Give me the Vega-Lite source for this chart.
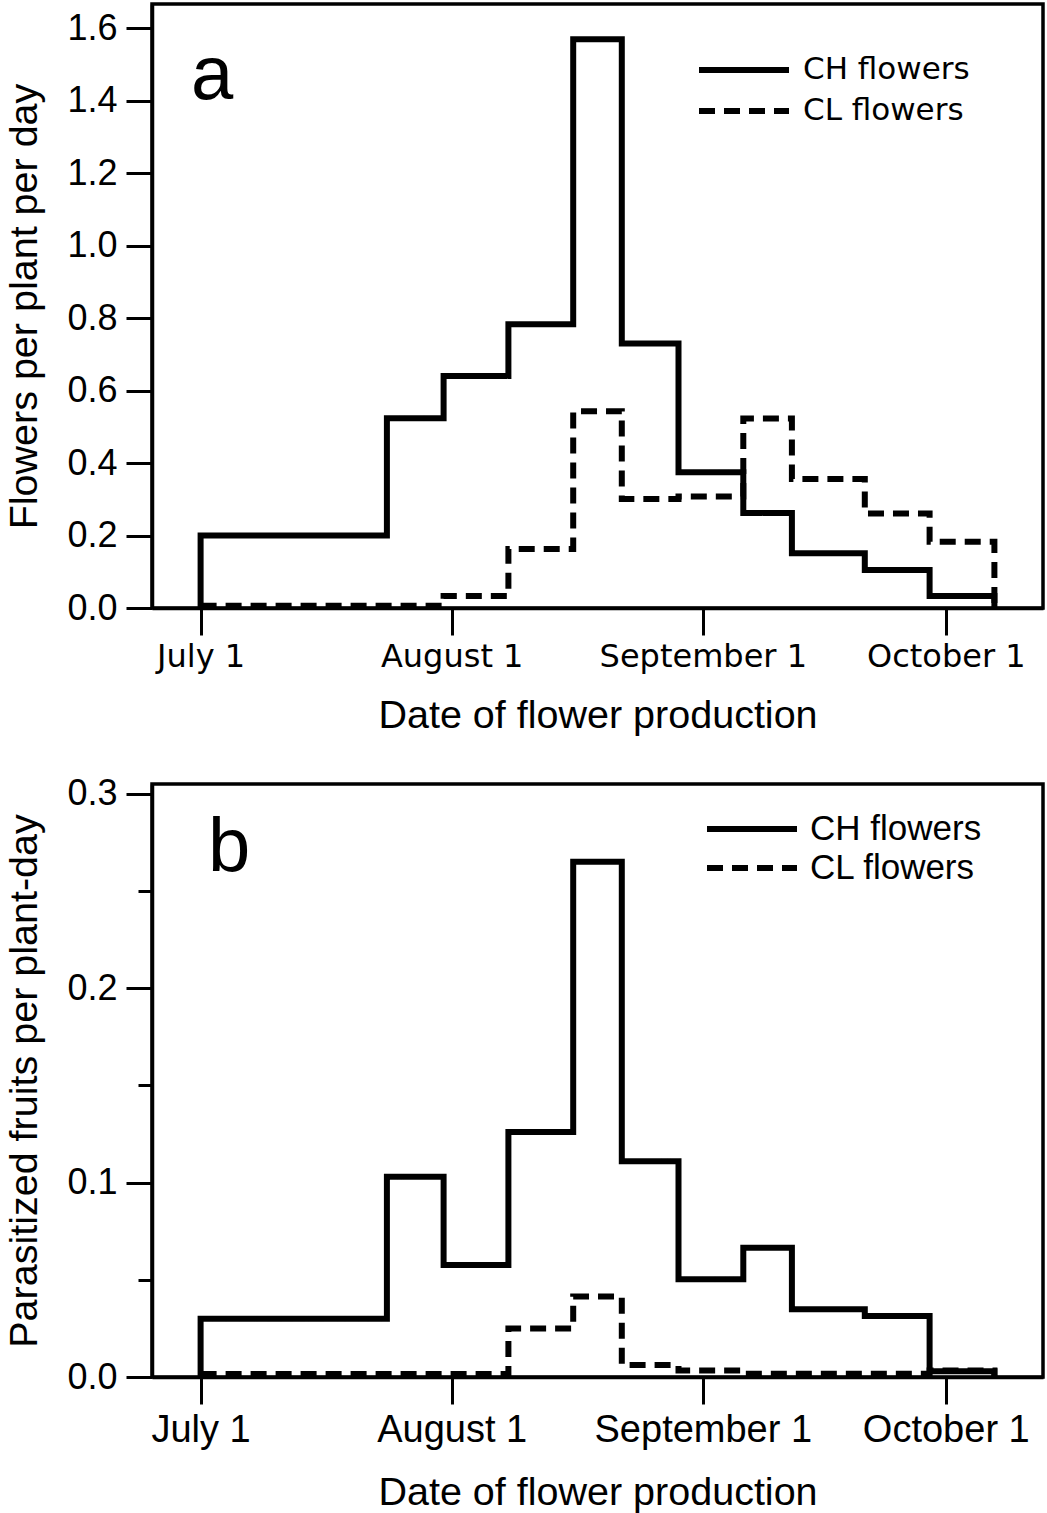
{
  "$schema": "https://vega.github.io/schema/vega-lite/v6.json",
  "padding": {"left": 3, "top": 2, "right": 0, "bottom": 0},
  "autosize": {"type": "pad"},
  "background": "white",
  "spacing": 36,
  "config": {
    "view": {"stroke": "black", "strokeWidth": 3.5},
    "axis": {
      "domainColor": "black", "domainWidth": 3.5, "tickColor": "black", "tickWidth": 3,
      "labelColor": "black", "titleColor": "black", "grid": false,
      "labelFont": "Liberation Sans", "titleFont": "Liberation Sans", "titleFontWeight": "normal",
      "labelOverlap": false, "labelFlush": false, "labelLimit": 0
    },
    "legend": {"padding": 0, "labelLimit": 0}
  },
  "datasets": {
    "a": [
      {"t": "CH flowers", "i": 0, "d": "2001-07-01", "v": 0},
      {"t": "CH flowers", "i": 1, "d": "2001-07-01", "v": 0.2},
      {"t": "CH flowers", "i": 2, "d": "2001-07-24", "v": 0.524},
      {"t": "CH flowers", "i": 3, "d": "2001-07-31", "v": 0.64},
      {"t": "CH flowers", "i": 4, "d": "2001-08-08", "v": 0.783},
      {"t": "CH flowers", "i": 5, "d": "2001-08-16", "v": 1.57},
      {"t": "CH flowers", "i": 6, "d": "2001-08-22", "v": 0.73},
      {"t": "CH flowers", "i": 7, "d": "2001-08-29", "v": 0.375},
      {"t": "CH flowers", "i": 8, "d": "2001-09-06", "v": 0.262},
      {"t": "CH flowers", "i": 9, "d": "2001-09-12", "v": 0.151},
      {"t": "CH flowers", "i": 10, "d": "2001-09-21", "v": 0.105},
      {"t": "CH flowers", "i": 11, "d": "2001-09-29", "v": 0.033},
      {"t": "CH flowers", "i": 12, "d": "2001-10-07", "v": 0},
      {"t": "CL flowers", "i": 0, "d": "2001-07-01", "v": 0.006},
      {"t": "CL flowers", "i": 1, "d": "2001-07-31", "v": 0.033},
      {"t": "CL flowers", "i": 2, "d": "2001-08-08", "v": 0.163},
      {"t": "CL flowers", "i": 3, "d": "2001-08-16", "v": 0.543},
      {"t": "CL flowers", "i": 4, "d": "2001-08-22", "v": 0.301},
      {"t": "CL flowers", "i": 5, "d": "2001-08-29", "v": 0.308},
      {"t": "CL flowers", "i": 6, "d": "2001-09-06", "v": 0.523},
      {"t": "CL flowers", "i": 7, "d": "2001-09-12", "v": 0.356},
      {"t": "CL flowers", "i": 8, "d": "2001-09-21", "v": 0.261},
      {"t": "CL flowers", "i": 9, "d": "2001-09-29", "v": 0.183},
      {"t": "CL flowers", "i": 10, "d": "2001-10-07", "v": 0}
    ],
    "b": [
      {"t": "CH flowers", "i": 0, "d": "2001-07-01", "v": 0},
      {"t": "CH flowers", "i": 1, "d": "2001-07-01", "v": 0.03},
      {"t": "CH flowers", "i": 2, "d": "2001-07-24", "v": 0.103},
      {"t": "CH flowers", "i": 3, "d": "2001-07-31", "v": 0.0576},
      {"t": "CH flowers", "i": 4, "d": "2001-08-08", "v": 0.126},
      {"t": "CH flowers", "i": 5, "d": "2001-08-16", "v": 0.265},
      {"t": "CH flowers", "i": 6, "d": "2001-08-22", "v": 0.111},
      {"t": "CH flowers", "i": 7, "d": "2001-08-29", "v": 0.0503},
      {"t": "CH flowers", "i": 8, "d": "2001-09-06", "v": 0.0665},
      {"t": "CH flowers", "i": 9, "d": "2001-09-12", "v": 0.0348},
      {"t": "CH flowers", "i": 10, "d": "2001-09-21", "v": 0.0314},
      {"t": "CH flowers", "i": 11, "d": "2001-09-29", "v": 0.003},
      {"t": "CH flowers", "i": 12, "d": "2001-10-07", "v": 0},
      {"t": "CL flowers", "i": 0, "d": "2001-07-01", "v": 0.0015},
      {"t": "CL flowers", "i": 1, "d": "2001-08-08", "v": 0.0249},
      {"t": "CL flowers", "i": 2, "d": "2001-08-16", "v": 0.0414},
      {"t": "CL flowers", "i": 3, "d": "2001-08-22", "v": 0.0062},
      {"t": "CL flowers", "i": 4, "d": "2001-08-29", "v": 0.0034},
      {"t": "CL flowers", "i": 5, "d": "2001-09-06", "v": 0.0017},
      {"t": "CL flowers", "i": 6, "d": "2001-09-29", "v": 0.0034},
      {"t": "CL flowers", "i": 7, "d": "2001-10-07", "v": 0}
    ]
  },
  "resolve": {"scale": {"strokeDash": "independent", "x": "independent", "y": "independent"}, "legend": {"strokeDash": "independent"}},
  "vconcat": [
    {
      "width": 891,
      "height": 604,
      "title": {"text": "a", "anchor": "start", "frame": "group", "orient": "top", "offset": 0, "dx": 39, "dy": 171, "baseline": "alphabetic", "font": "Liberation Sans", "fontSize": 76, "fontWeight": "normal", "color": "black"},
      "data": {"name": "a"},
      "mark": {"type": "line", "interpolate": "step-after", "strokeWidth": 6, "color": "black", "strokeCap": "butt", "strokeJoin": "miter"},
      "encoding": {
        "x": {
          "field": "d", "type": "temporal",
          "scale": {"type": "utc", "domain": [{"year": 2001, "month": 6, "date": 25, "utc": true}, {"year": 2001, "month": 10, "date": 13, "utc": true}], "nice": false},
          "axis": {
            "title": "Date of flower production",
            "values": [{"year": 2001, "month": 7, "date": 1, "utc": true}, {"year": 2001, "month": 8, "date": 1, "utc": true}, {"year": 2001, "month": 9, "date": 1, "utc": true}, {"year": 2001, "month": 10, "date": 1, "utc": true}],
            "format": "%B %-d",
            "tickSize": 27, "labelPadding": 6, "labelFont": "DejaVu Sans", "labelFontSize": 32,
            "titleFontSize": 39.5, "titlePadding": 24
          }
        },
        "y": {
          "field": "v", "type": "quantitative",
          "scale": {"domain": [0, 1.667], "nice": false, "zero": false},
          "axis": {
            "title": "Flowers per plant per day",
            "values": [0, 0.2, 0.4, 0.6, 0.8, 1.0, 1.2, 1.4, 1.6],
            "format": ".1f",
            "tickSize": 26, "labelPadding": 9, "labelFontSize": 36,
            "titleFontSize": 39.5, "titlePadding": 22
          }
        },
        "strokeDash": {
          "field": "t", "type": "nominal",
          "scale": {"domain": ["CH flowers", "CL flowers"], "range": [[1, 0], [16, 9]]},
          "legend": {
            "title": null, "orient": "none", "legendX": 544, "legendY": 48,
            "symbolType": "M-3,0H3", "symbolSize": 900, "symbolOffset": 30, "symbolStrokeWidth": 6,
            "symbolStrokeColor": "black", "symbolFillColor": "transparent",
            "labelFont": "DejaVu Sans", "labelFontSize": 31, "labelColor": "black", "labelOffset": 41, "rowPadding": 8
          }
        },
        "order": {"field": "i", "type": "quantitative"}
      }
    },
    {
      "width": 891,
      "height": 593,
      "title": {"text": "b", "anchor": "start", "frame": "group", "orient": "top", "offset": 0, "dx": 56, "dy": 171, "baseline": "alphabetic", "font": "Liberation Sans", "fontSize": 76, "fontWeight": "normal", "color": "black"},
      "data": {"name": "b"},
      "resolve": {"axis": {"y": "independent"}},
      "layer": [
        {
          "mark": {"type": "line", "interpolate": "step-after", "strokeWidth": 6, "color": "black", "strokeCap": "butt", "strokeJoin": "miter"},
          "encoding": {
            "x": {
              "field": "d", "type": "temporal",
              "scale": {"type": "utc", "domain": [{"year": 2001, "month": 6, "date": 25, "utc": true}, {"year": 2001, "month": 10, "date": 13, "utc": true}], "nice": false},
              "axis": {
                "title": "Date of flower production",
                "values": [{"year": 2001, "month": 7, "date": 1, "utc": true}, {"year": 2001, "month": 8, "date": 1, "utc": true}, {"year": 2001, "month": 9, "date": 1, "utc": true}, {"year": 2001, "month": 10, "date": 1, "utc": true}],
                "format": "%B %-d",
                "tickSize": 27, "labelPadding": 7, "labelFontSize": 38,
                "titleFontSize": 39.5, "titlePadding": 24
              }
            },
            "y": {
              "field": "v", "type": "quantitative",
              "scale": {"domain": [0, 0.305], "nice": false, "zero": false},
              "axis": {
                "title": "Parasitized fruits per plant-day",
                "orient": "left",
                "values": [0, 0.1, 0.2, 0.3],
                "format": ".1f",
                "tickSize": 26, "labelPadding": 9, "labelFontSize": 36,
                "titleFontSize": 39.5, "titlePadding": 22
              }
            },
            "strokeDash": {
              "field": "t", "type": "nominal",
              "scale": {"domain": ["CH flowers", "CL flowers"], "range": [[1, 0], [16, 9]]},
              "legend": {
                "title": null, "orient": "none", "legendX": 552, "legendY": 27,
                "symbolType": "M-3,0H3", "symbolSize": 900, "symbolOffset": 30, "symbolStrokeWidth": 6,
                "symbolStrokeColor": "black", "symbolFillColor": "transparent",
                "labelFont": "Liberation Sans", "labelFontSize": 35, "labelColor": "black", "labelOffset": 40, "rowPadding": 3
              }
            },
            "order": {"field": "i", "type": "quantitative"}
          }
        },
        {
          "mark": {"type": "line", "opacity": 0},
          "encoding": {
            "x": {
              "field": "d", "type": "temporal",
              "axis": {
                "title": "Date of flower production",
                "values": [{"year": 2001, "month": 7, "date": 1, "utc": true}, {"year": 2001, "month": 8, "date": 1, "utc": true}, {"year": 2001, "month": 9, "date": 1, "utc": true}, {"year": 2001, "month": 10, "date": 1, "utc": true}],
                "format": "%B %-d",
                "tickSize": 27, "labelPadding": 7, "labelFontSize": 38,
                "titleFontSize": 39.5, "titlePadding": 24
              }
            },
            "y": {
              "field": "v", "type": "quantitative",
              "axis": {"orient": "left", "values": [0.05, 0.15, 0.25], "tickSize": 14, "labels": false, "domain": false, "title": null, "grid": false}
            }
          }
        }
      ]
    }
  ]
}
